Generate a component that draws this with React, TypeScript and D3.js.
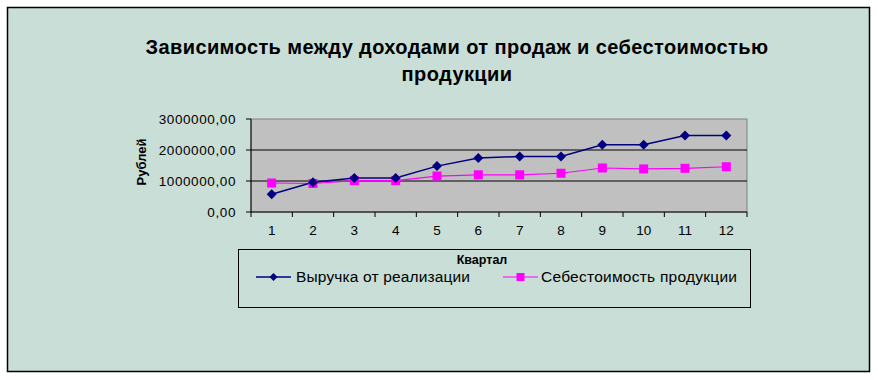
import React from "react";
import * as d3 from "d3";

const quarters = ["1", "2", "3", "4", "5", "6", "7", "8", "9", "10", "11", "12"];
const revenue = [570000, 960000, 1100000, 1100000, 1480000, 1740000, 1790000, 1790000, 2170000, 2170000, 2470000, 2470000];
const cost = [935000, 920000, 1010000, 1010000, 1160000, 1200000, 1200000, 1250000, 1420000, 1390000, 1410000, 1460000];
const yTicks = [0, 1000000, 2000000, 3000000];
const seriesNames = ["Выручка от реализации", "Себестоимость продукции"];
const titleLines = ["Зависимость между доходами от продаж и себестоимостью", "продукции"];

const W = 878, H = 380;
const plot = { left: 251, right: 747, top: 119, bottom: 212 };
const FONT = "'Liberation Sans', Arial, sans-serif";
const BLUE = "#000080";
const MAG = "#ff00ff";

export default function App() {
  const x = d3.scaleBand<string>().domain(quarters).range([plot.left, plot.right]);
  const y = d3.scaleLinear().domain([0, 3000000]).range([plot.bottom, plot.top]);
  const cx = (q: string) => (x(q) as number) + x.bandwidth() / 2;
  const line = d3.line<number>().x((_, i) => cx(quarters[i])).y((d) => y(d));
  const fmt = (v: number) => v.toFixed(2).replace(".", ",");
  const diamond = (px: number, py: number, r = 5) => `M${px},${py - r}L${px + r},${py}L${px},${py + r}L${px - r},${py}Z`;

  return (
    <svg width={W} height={H} style={{ position: "absolute", left: 0, top: 0 }} fontFamily={FONT}>
      <rect x={0} y={0} width={W} height={H} fill="#ffffff" />
      <rect x={7.5} y={7.5} width={862} height={364} fill="#c8ded6" stroke="#000" strokeWidth={1.5} />
      {titleLines.map((t, i) => (
        <text key={i} x={457} y={54 + i * 27} textAnchor="middle" fontSize={20} letterSpacing={0.4} fontWeight="bold" fill="#000">
          {t}
        </text>
      ))}
      <rect x={plot.left} y={plot.top} width={plot.right - plot.left} height={plot.bottom - plot.top} fill="#c0c0c0" stroke="#808080" strokeWidth={1} />
      {yTicks.slice(1, 3).map((t) => (
        <line key={t} x1={plot.left} x2={plot.right} y1={y(t)} y2={y(t)} stroke="#000" strokeWidth={1} />
      ))}
      <line x1={plot.left} x2={plot.left} y1={plot.top} y2={plot.bottom} stroke="#000" />
      <line x1={plot.left} x2={plot.right} y1={plot.bottom} y2={plot.bottom} stroke="#000" />
      {yTicks.map((t) => (
        <g key={t}>
          <line x1={plot.left - 5} x2={plot.left} y1={y(t)} y2={y(t)} stroke="#000" />
          <text x={236} y={y(t) + 5} textAnchor="end" fontSize={13.5} letterSpacing={0.6} fill="#000">{fmt(t)}</text>
        </g>
      ))}
      {quarters.map((q) => (
        <g key={q}>
          <line x1={x(q) as number} x2={x(q) as number} y1={plot.bottom} y2={plot.bottom + 5} stroke="#000" />
          <text x={cx(q)} y={235} textAnchor="middle" fontSize={13.5} fill="#000">{q}</text>
        </g>
      ))}
      <line x1={plot.right} x2={plot.right} y1={plot.bottom} y2={plot.bottom + 5} stroke="#000" />
      <text transform={`translate(146,162) rotate(-90)`} textAnchor="middle" fontSize={13} fontWeight="bold" fill="#000">
        Рублей
      </text>
      <path d={line(cost) || ""} fill="none" stroke={MAG} strokeWidth={1.2} />
      <path d={line(revenue) || ""} fill="none" stroke={BLUE} strokeWidth={1.5} />
      {cost.map((v, i) => (
        <rect key={"c" + i} x={cx(quarters[i]) - 4.5} y={y(v) - 4.5} width={9} height={9} fill={MAG} />
      ))}
      {revenue.map((v, i) => (
        <path key={"r" + i} d={diamond(cx(quarters[i]), y(v))} fill={BLUE} />
      ))}
      <rect x={238.5} y={249.5} width={512} height={58} fill="none" stroke="#000" strokeWidth={1} />
      <text x={482} y={264} textAnchor="middle" fontSize={12.5} fontWeight="bold" fill="#000">Квартал</text>
      <line x1={256} x2={291} y1={277} y2={277} stroke={BLUE} strokeWidth={1.5} />
      <path d={diamond(273.5, 277, 4)} fill={BLUE} />
      <text x={296} y={282} fontSize={15.5} letterSpacing={0.15} fill="#000">{seriesNames[0]}</text>
      <line x1={503} x2={538} y1={277} y2={277} stroke={MAG} strokeWidth={1.2} />
      <rect x={516.5} y={273} width={8} height={8} fill={MAG} />
      <text x={541} y={282} fontSize={15.5} letterSpacing={0.25} fill="#000">{seriesNames[1]}</text>
    </svg>
  );
}
